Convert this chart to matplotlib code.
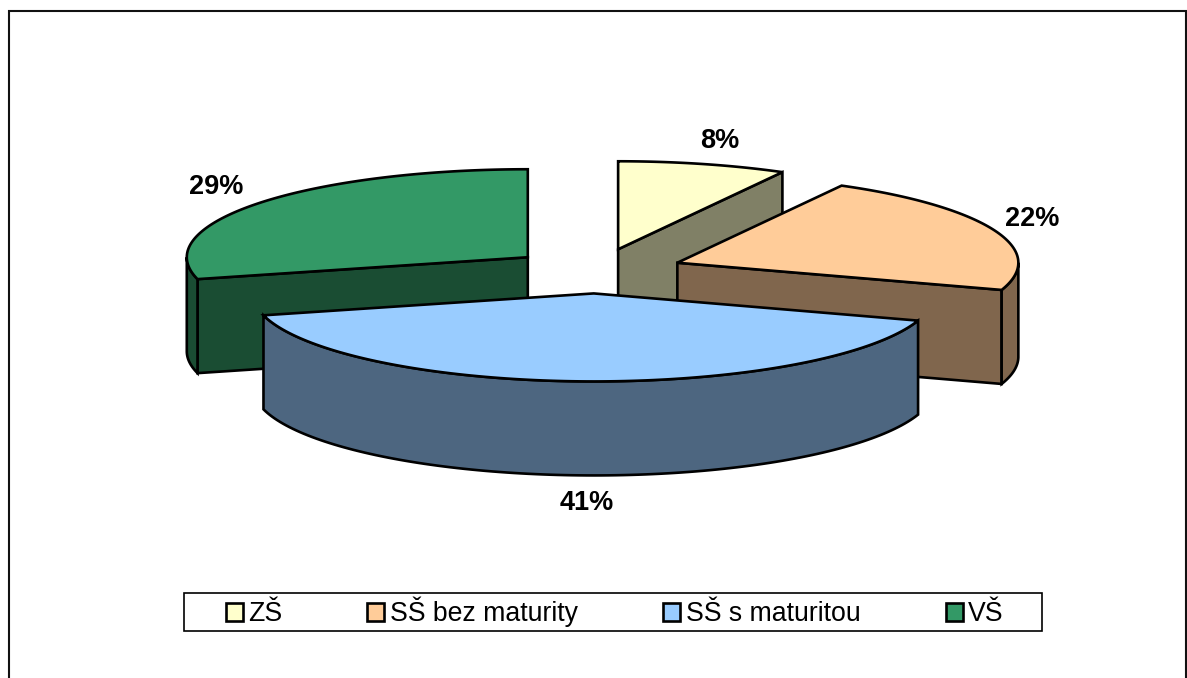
import matplotlib
matplotlib.use('Agg')
import matplotlib.pyplot as plt
import numpy as np
from matplotlib.patches import Polygon, Rectangle, Patch

plt.rcParams['font.family'] = ['Liberation Sans', 'DejaVu Sans']

categories = ['ZŠ', 'SŠ bez maturity', 'SŠ s maturitou', 'VŠ']
values = [8, 22, 41, 29]
top_colors = ['#FFFFCC', '#FFCC99', '#99CCFF', '#339966']
wall_colors = ['#808066', '#80664D', '#4D6680', '#1A4D33']

#----------------------------------------
# Pie geometry, in pixels of the figure
#----------------------------------------
CX, CY = 596.5, 271
RX, RY = 341, 88
DEPTH = 94
EXPLODE = 0.255
label_xy = [(720, 140.5), (1032, 219.5), (587, 503.5), (216, 186.5)]
draw_order = [0, 3, 1, 2]    # back to front

#------------------------------------------------------------------------
def rim_points( cx, cy, a1, a2, n=120 ):
    # Angles in degrees, clockwise from 12 o'clock
    t = np.radians( np.linspace(a1, a2, n) )
    return np.column_stack( (cx + RX * np.sin(t), cy - RY * np.cos(t)) )

#   rim_points()
#------------------------------------------------------------------------
def add_poly( ax, pts, color ):
    ax.add_patch( Polygon(pts, closed=True, facecolor=color, edgecolor='black',
                          linewidth=1.9, joinstyle='miter') )

#   add_poly()
#------------------------------------------------------------------------
def radial_wall( ax, cx, cy, a, color ):
    p = rim_points( cx, cy, a, a, n=1 )[0]
    add_poly( ax, [(cx, cy), p, (p[0], p[1] + DEPTH), (cx, cy + DEPTH)], color )

#   radial_wall()
#------------------------------------------------------------------------
def draw_slice( ax, a1, a2, top, wall ):
    mid = np.radians( (a1 + a2) / 2.0 )
    cx  = CX + EXPLODE * RX * np.sin(mid)
    cy  = CY - EXPLODE * RY * np.cos(mid)

    if (0 < a2 < 180):
        radial_wall( ax, cx, cy, a2, wall )
    if (180 < a1 < 360):
        radial_wall( ax, cx, cy, a1, wall )

    #-----------------------------------
    # Outer wall, front half of the rim
    #-----------------------------------
    b1 = max( a1, 90 )
    b2 = min( a2, 270 )
    if (b1 < b2):
        rim = rim_points( cx, cy, b1, b2 )
        low = rim[::-1] + [0, DEPTH]
        add_poly( ax, np.vstack( (rim, low) ), wall )

    rim = rim_points( cx, cy, a1, a2 )
    add_poly( ax, np.vstack( ([(cx, cy)], rim) ), top )

#   draw_slice()
#------------------------------------------------------------------------
fig = plt.figure( figsize=(11.87, 6.78), dpi=100 )
ax = fig.add_axes( [0, 0, 1, 1] )
ax.set_xlim( 0, 1187 )
ax.set_ylim( 678, 0 )
ax.axis( 'off' )

# Chart frame, its bottom edge is cut off by the image
ax.add_patch( Rectangle((8.5, 10.5), 1177, 680, facecolor='white',
                        edgecolor='#111111', linewidth=1.5) )

edges = 3.6 * np.concatenate( ([0], np.cumsum(values)) )
for i in draw_order:
    draw_slice( ax, edges[i], edges[i + 1], top_colors[i], wall_colors[i] )

for v, (x, y) in zip( values, label_xy ):
    ax.text( x, y, f'{v}%', fontsize=19.5, fontweight='bold', color='black',
             ha='center', va='center' )

#---------
# Legend
#---------
ax.add_patch( Rectangle((183.5, 593), 858.5, 37.5, facecolor='white',
                        edgecolor='black', linewidth=1.2) )
handles = [Patch(facecolor=c, edgecolor='black', linewidth=1.9) for c in top_colors]
ax.legend( handles, categories, ncol=4, loc='center',
           bbox_to_anchor=(614.5, 612), bbox_transform=ax.transData,
           frameon=False, fontsize=19.2, handlelength=0.64, handleheight=0.64,
           handletextpad=0.2, columnspacing=3.2, labelcolor='black' )

fig.savefig( 'out.png', dpi=100 )
